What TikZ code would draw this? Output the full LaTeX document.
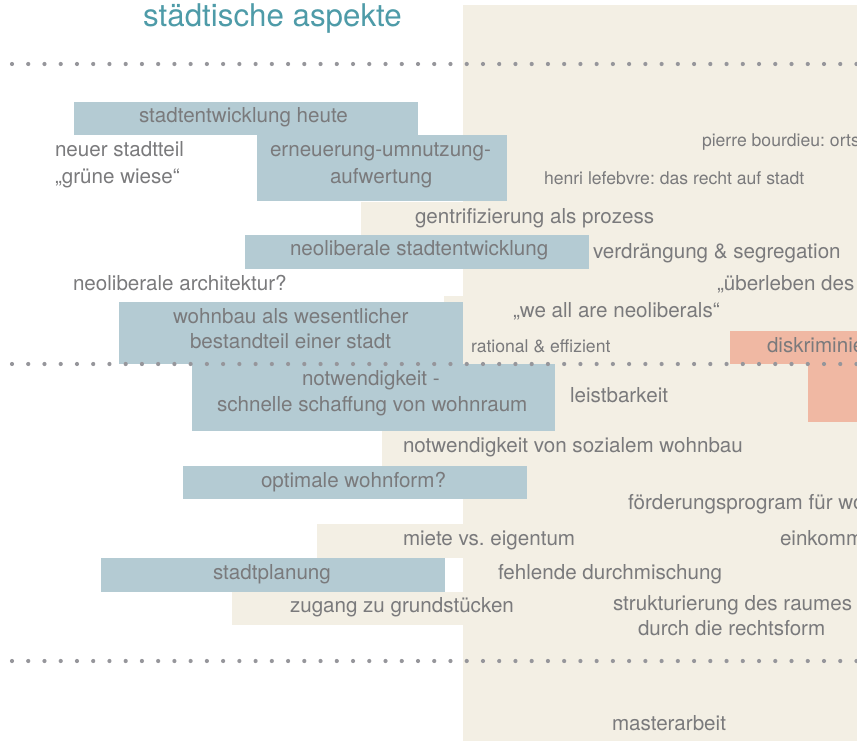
\documentclass[tikz,border=0pt]{standalone}
\usepackage{fontspec}
\setmainfont{TeX Gyre Heros}
\frenchspacing
\definecolor{beige}{RGB}{243,239,228}
\definecolor{boxblue}{RGB}{180,203,211}
\definecolor{salmon}{RGB}{240,184,163}
\definecolor{txtgray}{RGB}{122,122,124}
\definecolor{dotgray}{RGB}{150,150,155}
\definecolor{titleteal}{RGB}{78,155,168}
\begin{document}
\begin{tikzpicture}[x=1pt,y=-1pt,
  lbl/.style={anchor=base west, inner sep=0pt, outer sep=0pt, text=txtgray, font=\fontsize{20.6}{24}\selectfont},
  sm/.style={lbl, font=\fontsize{17.6}{21}\selectfont},
  beigefill/.style={fill=beige},
  bluefill/.style={fill=boxblue},
  salmonfill/.style={fill=salmon},
  dotfill/.style={fill=dotgray}]
\useasboundingbox (0,0) rectangle (857,741);
\clip (0,0) rectangle (857,741);
% beige areas
\fill[beigefill] (463,5) rectangle (857,741);
\fill[beigefill] (361,202) rectangle (463,235);
\fill[beigefill] (444,296) rectangle (463,364);
\fill[beigefill] (382,431) rectangle (463,466);
\fill[beigefill] (317,524) rectangle (463,558);
\fill[beigefill] (232,592) rectangle (463,625);
% blue boxes
\fill[bluefill] (74,102) rectangle (418,135);
\fill[bluefill] (257,135) rectangle (507,201);
\fill[bluefill] (245,235) rectangle (589,269);
\fill[bluefill] (119,302) rectangle (463,364);
\fill[bluefill] (192,364) rectangle (555,431);
\fill[bluefill] (183,466) rectangle (527,499);
\fill[bluefill] (101,558) rectangle (445,592);
% salmon
\fill[salmonfill] (730,331) rectangle (857,364);
\fill[salmonfill] (808,364) rectangle (857,422);
% dotted lines
\foreach \yy in {64,364,661}{
  \foreach \i in {0,...,52} \fill[dotfill] ({12+16.24*\i},\yy) circle (2.1);
}
% title
\node[anchor=base west, inner sep=0pt, text=titleteal, font=\fontsize{31.3}{36}\selectfont] (title) at (143,27) {städtische aspekte};
% texts
\node[lbl] (t1) at (139,123) {stadtentwicklung heute};
\node[lbl] (t2) at (55,157) {neuer stadtteil};
\node[lbl] (t3) at (55,183) {„grüne wiese“};
\node[lbl] (t4) at (270,157) {erneuerung-umnutzung-};
\node[lbl] (t5) at (330,183) {aufwertung};
\node[sm] (t6) at (702,147) {pierre bourdieu: ortseffekte};
\node[sm] (t7) at (544,185) {henri lefebvre: das recht auf stadt};
\node[lbl] (t8) at (415,223) {gentrifizierung als prozess};
\node[lbl] (t9) at (290,255) {neoliberale stadtentwicklung};
\node[lbl] (t10) at (593,258) {verdrängung \& segregation};
\node[lbl] (t11) at (73,290) {neoliberale architektur?};
\node[lbl] (t12) at (717,290) {„überleben des stärkeren“};
\node[lbl] (t13) at (513,317) {„we all are neoliberals“};
\node[lbl] (t14) at (173,323) {wohnbau als wesentlicher};
\node[lbl] (t15) at (190,348) {bestandteil einer stadt};
\node[sm] (t16) at (471,352) {rational \& effizient};
\node[lbl] (t17) at (767,352) {diskriminierung};
\node[lbl] (t18) at (302,385) {notwendigkeit -};
\node[lbl] (t19) at (217,411) {schnelle schaffung von wohnraum};
\node[lbl] (t20) at (570,402) {leistbarkeit};
\node[lbl] (t21) at (403,452) {notwendigkeit von sozialem wohnbau};
\node[lbl] (t22) at (261,487) {optimale wohnform?};
\node[lbl] (t23) at (628,509) {förderungsprogram für wohnbau};
\node[lbl] (t24) at (403,545) {miete vs. eigentum};
\node[lbl] (t25) at (780,545) {einkommen};
\node[lbl] (t26) at (213,579) {stadtplanung};
\node[lbl] (t27) at (498,579) {fehlende durchmischung};
\node[lbl] (t28) at (290,612) {zugang zu grundstücken};
\node[lbl] (t29) at (613,610) {strukturierung des raumes};
\node[lbl] (t30) at (638,635) {durch die rechtsform};
\node[lbl] (t31) at (612,730) {masterarbeit};
\end{tikzpicture}
\end{document}
